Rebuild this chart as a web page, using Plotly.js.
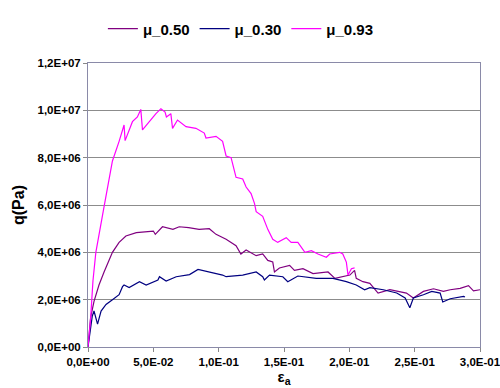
<!DOCTYPE html>
<html><head><meta charset="utf-8">
<script src="https://cdn.plot.ly/plotly-3.0.1.min.js"></script>
<style>body{margin:0;background:#fff}#c{width:500px;height:388px}</style>
</head><body><div id="c"></div>
<script>
const names = ["μ_0.50", "μ_0.30", "μ_0.93"];
const colors = ["#800080", "#000080", "#ff00ff"];

const x050 = [0,0.002,0.0046,0.0084,0.0123,0.0187,0.0238,0.029,0.037,0.05,0.0515,0.057,0.065,0.0698,0.077,0.085,0.0928,0.098,0.1057,0.1133,0.117,0.121,0.1287,0.1337,0.1376,0.1414,0.1427,0.1465,0.1543,0.158,0.1645,0.1722,0.1837,0.189,0.2004,0.204,0.2053,0.2104,0.2157,0.222,0.231,0.2437,0.249,0.2567,0.2644,0.272,0.2772,0.2848,0.2912,0.295,0.3];
const y050 = [0,1.24e6,1.93e6,2.62e6,3.17e6,4.0e6,4.42e6,4.69e6,4.83e6,4.9e6,4.76e6,5.08e6,4.97e6,5.08e6,5.04e6,4.97e6,5.0e6,4.76e6,4.55e6,4.28e6,3.93e6,4.1e6,3.86e6,3.93e6,3.66e6,3.59e6,3.17e6,3.34e6,3.45e6,3.24e6,3.31e6,3.1e6,3.17e6,2.9e6,3.04e6,3.24e6,2.9e6,2.76e6,2.69e6,2.28e6,2.42e6,2.28e6,2.07e6,2.35e6,2.46e6,2.35e6,2.42e6,2.48e6,2.59e6,2.37e6,2.42e6];

const x030 = [0,0.002,0.0033,0.0046,0.0073,0.01,0.0138,0.0187,0.0238,0.0264,0.0276,0.0315,0.038,0.0394,0.0445,0.0535,0.0547,0.0598,0.0675,0.0777,0.0842,0.0928,0.103,0.1057,0.1184,0.1287,0.1337,0.135,0.1389,0.1491,0.1529,0.1606,0.1747,0.1875,0.1977,0.2053,0.2117,0.2157,0.226,0.2363,0.2427,0.2463,0.249,0.2567,0.2631,0.2695,0.2715,0.2772,0.2874,0.2885];
const y030 = [0,0.83e6,1.31e6,1.52e6,0.97e6,1.52e6,1.8e6,2.0e6,2.21e6,2.55e6,2.62e6,2.51e6,2.69e6,2.76e6,2.62e6,2.83e6,2.97e6,2.79e6,2.97e6,3.06e6,3.28e6,3.17e6,3.04e6,2.97e6,3.04e6,3.17e6,2.97e6,2.83e6,3.04e6,2.97e6,2.76e6,3.0e6,2.9e6,2.9e6,2.76e6,2.62e6,2.42e6,2.51e6,2.42e6,2.28e6,2.07e6,1.66e6,2.07e6,2.21e6,2.35e6,2.28e6,1.9e6,2.04e6,2.14e6,2.11e6];

const x093 = [0,0.002,0.0038,0.006,0.0123,0.0187,0.0238,0.0276,0.0284,0.034,0.0378,0.0404,0.0417,0.0468,0.052,0.0558,0.059,0.06,0.0634,0.0647,0.0685,0.075,0.0826,0.089,0.0903,0.098,0.103,0.1057,0.1095,0.112,0.1133,0.1184,0.121,0.1248,0.1274,0.1287,0.1337,0.1376,0.1414,0.1452,0.1517,0.1555,0.1606,0.166,0.171,0.176,0.1824,0.185,0.1926,0.195,0.1977,0.199,0.2016,0.204];
const y093 = [0,1.2e6,2.8e6,4.0e6,5.93e6,7.86e6,8.69e6,9.38e6,8.72e6,9.52e6,9.72e6,1.004e7,9.17e6,9.52e6,9.86e6,1.007e7,9.93e6,9.72e6,9.86e6,9.24e6,9.59e6,9.31e6,9.24e6,9.04e6,8.83e6,8.9e6,8.69e6,8.07e6,8.0e6,7.45e6,7.17e6,7.1e6,6.76e6,6.48e6,6.07e6,5.72e6,5.52e6,4.97e6,4.55e6,4.42e6,4.62e6,4.42e6,4.42e6,4.0e6,4.07e6,3.93e6,3.79e6,3.93e6,4.0e6,3.93e6,3.59e6,3.04e6,3.31e6,3.34e6];

const xTickVals = [0,0.05,0.1,0.15,0.2,0.25,0.3];
const xTickText = ["0,0E+00","5,0E-02","1,0E-01","1,5E-01","2,0E-01","2,5E-01","3,0E-01"];
const yTickVals = [0,2e6,4e6,6e6,8e6,1e7,1.2e7];
const yTickText = ["0,0E+00","2,0E+06","4,0E+06","6,0E+06","8,0E+06","1,0E+07","1,2E+07"];

const xs = [x050, x030, x093], ys = [y050, y030, y093];
const traces = names.map((n,i)=>({x:xs[i], y:ys[i], name:n, type:'scatter', mode:'lines',
  line:{color:colors[i], width:1.2}}));

const font = "Liberation Sans, Arial, sans-serif";
const layout = {
  width:500, height:388,
  margin:{l:88, r:20, t:57, b:41},
  paper_bgcolor:'#fff', plot_bgcolor:'#fff',
  showlegend:true,
  legend:{orientation:'h', x:0.39, xanchor:'center', y:1.12, yanchor:'middle',
    font:{family:font, size:15, color:'#000', weight:'bold'}, itemwidth:30, tracegroupgap:0},
  xaxis:{range:[0,0.3], tickvals:xTickVals, ticktext:xTickText, ticks:'outside', ticklen:4,
    tickcolor:'#888', showgrid:false, zeroline:false, showline:true, linecolor:'#8a8aa8', mirror:true,
    ticklabeloverflow:'allow',
    tickfont:{family:font, size:11.5, color:'#000', weight:'bold'},
    title:{text:'ε<sub>a</sub>', font:{family:font, size:15, color:'#000', weight:'bold'}, standoff:2}},
  yaxis:{range:[0,1.2e7], tickvals:yTickVals, ticktext:yTickText, ticks:'outside', ticklen:4,
    tickcolor:'#888', showgrid:true, gridcolor:'#8c8c8c', gridwidth:1, zeroline:false,
    showline:true, linecolor:'#8a8aa8', mirror:true,
    tickfont:{family:font, size:11.5, color:'#000', weight:'bold'},
    title:{text:'q(Pa)', font:{family:font, size:16, color:'#000', weight:'bold'}, standoff:8}}
};
Plotly.newPlot('c', traces, layout, {staticPlot:true, displayModeBar:false});
</script></body></html>
